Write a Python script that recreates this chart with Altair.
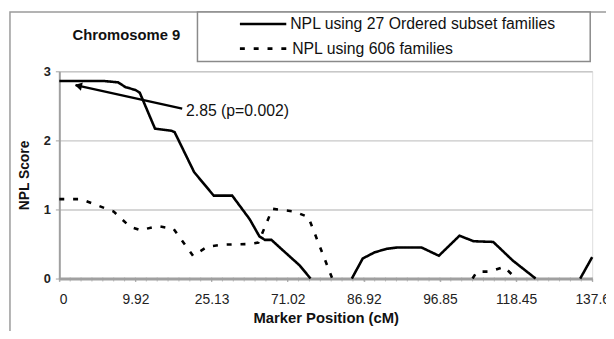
import altair as alt
import pandas as pd

# ---------------- data ----------------
x_tick_labels = ["0", "9.92", "25.13", "71.02", "86.92", "96.85", "118.45", "137.6"]
label_step = 7          # markers between labelled ticks
n_markers = 50          # marker index 0 .. 49

series_names = ["NPL using 27 Ordered subset families", "NPL using 606 families"]
chart_title = "Chromosome 9"

# NPL with 27 ordered-subset families (solid) : marker index / NPL score, per visible segment
ord_seg1_x = [0, 4.1, 5.4, 6.1, 7.0, 7.4, 8.8, 10.3, 10.6, 12.4, 14.2, 15.9, 17.5, 18.4, 18.9, 19.5, 20.9, 22.1, 23.1]
ord_seg1_y = [2.86, 2.86, 2.84, 2.77, 2.73, 2.69, 2.17, 2.14, 2.12, 1.54, 1.20, 1.20, 0.86, 0.61, 0.56, 0.56, 0.36, 0.19, 0.0]
ord_seg2_x = [26.9, 27.9, 29.0, 30.1, 31.1, 33.3, 34.9, 36.8, 38.1, 39.9, 41.7, 43.8]
ord_seg2_y = [0.0, 0.29, 0.38, 0.43, 0.45, 0.45, 0.33, 0.62, 0.54, 0.53, 0.26, 0.0]
ord_seg3_x = [47.9, 49.0]
ord_seg3_y = [0.0, 0.31]

# NPL with 606 families (dashed)
all_seg1_x = [0, 2.0, 5.0, 6.5, 7.5, 9.0, 10.5, 12.3, 13.6, 15.0, 17.5, 18.3, 19.6, 21.6, 22.9, 25.1]
all_seg1_y = [1.15, 1.15, 0.97, 0.75, 0.70, 0.76, 0.72, 0.33, 0.46, 0.49, 0.50, 0.52, 1.01, 0.97, 0.89, 0.0]
all_seg2_x = [38.0, 38.4, 39.6, 40.9, 42.0]
all_seg2_y = [0.0, 0.10, 0.10, 0.17, 0.0]

# annotation (marker index / score)
arrow_tail = [11.3, 2.46]
arrow_tip = [1.5, 2.80]
annot_text = "2.85 (p=0.002)"
annot_pos = [11.65, 2.43]

# ---------------- tables ----------------
rows = []
for seg, (xs, ys) in enumerate([(ord_seg1_x, ord_seg1_y), (ord_seg2_x, ord_seg2_y), (ord_seg3_x, ord_seg3_y)]):
    for xv, yv in zip(xs, ys):
        rows.append({"series": series_names[0], "seg": f"o{seg}", "marker": xv, "npl": yv})
for seg, (xs, ys) in enumerate([(all_seg1_x, all_seg1_y), (all_seg2_x, all_seg2_y)]):
    for xv, yv in zip(xs, ys):
        rows.append({"series": series_names[1], "seg": f"a{seg}", "marker": xv, "npl": yv})
lines_df = pd.DataFrame(rows)

arrow_df = pd.DataFrame({"x": [arrow_tail[0]], "y": [arrow_tail[1]], "x2": [arrow_tip[0]], "y2": [arrow_tip[1]]})
head_df = pd.DataFrame({"x": [arrow_tip[0] + 0.25], "y": [arrow_tip[1] - 0.01]})
text_df = pd.DataFrame({"x": [annot_pos[0]], "y": [annot_pos[1]], "t": [annot_text]})
minor_df = pd.DataFrame({"m": list(range(n_markers))})
one = pd.DataFrame({"a": [0]})

FONT = "Liberation Sans"
GRAY = "#a0a0a0"

label_js = "[" + ",".join(f"'{t}'" for t in x_tick_labels) + "]"
label_expr = f"{label_js}[round(datum.value / {label_step})]"
label_values = [i * label_step for i in range(len(x_tick_labels))]

x_scale = alt.Scale(domain=[0, n_markers - 1], nice=False, zero=False)
y_scale = alt.Scale(domain=[0, 3], nice=False)

x_axis = alt.Axis(
    values=label_values, labelExpr=label_expr, labelOverlap=False, labelFlush=False, labelBound=False,
    labelAlign={"condition": {"test": "datum.value == 0", "value": "left"}, "value": "center"},
    labelFontSize=14, labelColor="#222", labelPadding=11, labelFont=FONT,
    tickSize=3, tickColor=GRAY, tickWidth=1,
    domainColor=GRAY, domainWidth=3, grid=False,
    title="Marker Position (cM)", titleFontSize=15, titleFontWeight="bold", titlePadding=5,
    titleFont=FONT, titleColor="#111",
)
y_axis = alt.Axis(
    values=[0, 1, 2, 3], format="d", labelFontSize=13, labelFontWeight="bold", labelColor="#222", labelPadding=5,
    labelFont=FONT, tickSize=4, tickColor=GRAY, domainColor=GRAY, domainWidth=2,
    grid=True, gridColor="#c8c8c8", gridWidth=1.5,
    title="NPL Score", titleFontSize=14, titleFontWeight="bold", titlePadding=12, titleFont=FONT,
    titleColor="#111",
)

frame = alt.Chart(one).mark_rect(fillOpacity=0, stroke="#9a9a9a", strokeWidth=1.5).encode(
    x=alt.value(-50), x2=alt.value(580), y=alt.value(-60), y2=alt.value(320)
)

# small tick at every marker along the x axis
minor = alt.Chart(minor_df).mark_tick(color=GRAY, thickness=1, size=4).encode(
    x=alt.X("m:Q", scale=x_scale), y=alt.value(211)
)

lines = alt.Chart(lines_df).mark_line(color="black", strokeWidth=2.6, strokeCap="butt", strokeJoin="miter").encode(
    x=alt.X("marker:Q", scale=x_scale, axis=x_axis),
    y=alt.Y("npl:Q", scale=y_scale, axis=y_axis),
    strokeDash=alt.StrokeDash("series:N", scale=alt.Scale(domain=series_names, range=[[1, 0], [5, 9]]), legend=None),
    detail="seg:N",
    order="marker:Q",
)

arrow = alt.Chart(arrow_df).mark_rule(color="black", strokeWidth=2.4).encode(
    x=alt.X("x:Q", scale=x_scale), y=alt.Y("y:Q", scale=y_scale), x2="x2:Q", y2="y2:Q"
)
head = alt.Chart(head_df).mark_point(shape="triangle-up", filled=True, color="black", size=70, angle=283, opacity=1).encode(
    x=alt.X("x:Q", scale=x_scale), y=alt.Y("y:Q", scale=y_scale)
)
annot = alt.Chart(text_df).mark_text(align="left", baseline="middle", fontSize=16, font=FONT, color="#111").encode(
    x=alt.X("x:Q", scale=x_scale), y=alt.Y("y:Q", scale=y_scale), text="t:N"
)

# legend box (drawn by hand, above the plot)
leg_box = alt.Chart(one).mark_rect(fill="white", stroke="#8a8a8a", strokeWidth=1.5).encode(
    x=alt.value(140), x2=alt.value(538), y=alt.value(-60), y2=alt.value(-10)
)
leg_solid = alt.Chart(one).mark_rule(color="black", strokeWidth=2.6).encode(
    x=alt.value(183), x2=alt.value(230), y=alt.value(-48)
)
leg_dash = alt.Chart(one).mark_rule(color="black", strokeWidth=3, strokeDash=[5, 9], strokeCap="butt").encode(
    x=alt.value(183), x2=alt.value(233), y=alt.value(-23)
)
leg_t1 = alt.Chart(one).mark_text(align="left", baseline="middle", fontSize=16, font=FONT, color="#111").encode(
    x=alt.value(234), y=alt.value(-48), text=alt.value(series_names[0])
)
leg_t2 = alt.Chart(one).mark_text(align="left", baseline="middle", fontSize=16, font=FONT, color="#111").encode(
    x=alt.value(236), y=alt.value(-23), text=alt.value(series_names[1])
)
title_t = alt.Chart(one).mark_text(align="center", baseline="middle", fontSize=15, fontWeight="bold", font=FONT, color="#111").encode(
    x=alt.value(68), y=alt.value(-37), text=alt.value(chart_title)
)

chart = alt.layer(
    frame, minor, lines, arrow, head, annot, leg_box, leg_solid, leg_dash, leg_t1, leg_t2, title_t
).properties(
    width=540, height=210,
    autosize="none",
    padding={"left": 52, "top": 62, "right": 14, "bottom": 51},
).configure_view(stroke="#a8a8a8", strokeWidth=1.5).configure(font=FONT, background="white")

chart.save("out.html", embed_options={"renderer": "svg", "actions": False})
